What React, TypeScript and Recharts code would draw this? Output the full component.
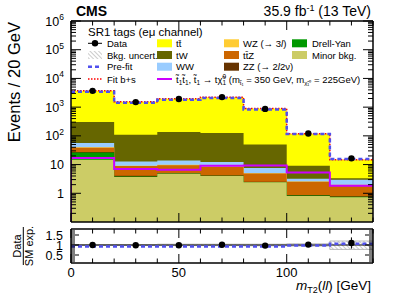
import React from 'react'
import { ComposedChart, Area, Line, Scatter, XAxis, YAxis, ReferenceLine, ErrorBar } from 'recharts'

const FONT = 'Liberation Sans, Arial, sans-serif'

const binEdges = [0, 20, 40, 60, 80, 100, 120, 140]
const binCenters = [10, 30, 50, 70, 90, 110, 130]

// backgrounds, bottom of the stack first
const minorBkg = [14.7, 3.7, 4.8, 4.0, 2.4, 0.81, 0.73]
const drellYan = [11.7, 0.15, 0.05, 0.05, 0.03, 0.02, 0.02]
const zz = [1.0, 0.2, 0.15, 0.15, 0.1, 0.05, 0.04]
const ttz = [11.0, 4.8, 4.5, 4.2, 2.4, 1.62, 1.13]
const wz = [1.5, 0.3, 0.3, 0.2, 0.1, 0.07, 0.05]
const ww = [16.6, 3.65, 4.1, 3.6, 2.5, 0.63, 0.97]
const tw = [250, 97, 123, 114, 42, 5.9, 0.43]
const ttbar = [3400, 1420, 1810, 2090, 845, 110, 11.3]

const dataCounts = [3700, 1500, 1930, 2240, 870, 121, 16.5]
const signal = [16.9, 6.95, 6.6, 9.1, 9.3, 5.3, 1.82]

// ratio panel
const ratioData = [1.0, 0.99, 0.99, 1.01, 0.97, 1.02, 1.1]
const ratioErr = [0.02, 0.03, 0.03, 0.025, 0.04, 0.1, 0.28]
const prefitRatio = [0.93, 0.93, 0.93, 0.93, 0.93, 0.97, 1.06]
const uncLow = [0.98, 0.98, 0.97, 0.97, 0.96, 0.95, 0.78]
const uncHigh = [1.02, 1.02, 1.04, 1.04, 1.04, 1.06, 1.2]

const xTicks = [0, 10, 20, 30, 40, 50, 60, 70, 80, 90, 100, 110, 120, 130, 140]
const xLabels = [0, 50, 100]
const decades = [0.1, 1, 10, 100, 1e3, 1e4, 1e5]
const yTicksMain = decades.flatMap((d) => [1, 2, 3, 4, 5, 6, 7, 8, 9].map((m) => m * d)).filter((v) => v > 0.15).concat([1e6])
const yTicksRatio = [0.2, 0.3, 0.4, 0.5, 0.6, 0.7, 0.8, 0.9, 1, 1.1, 1.2, 1.3, 1.4, 1.5, 1.6, 1.7]

const stack = [
  { vals: minorBkg, color: '#cccc66' },
  { vals: drellYan, color: '#009900' },
  { vals: zz, color: '#663300' },
  { vals: ttz, color: '#cc6600' },
  { vals: wz, color: '#ffcc33' },
  { vals: ww, color: '#99ccff' },
  { vals: tw, color: '#666600' },
  { vals: ttbar, color: '#ffff00' },
]

const rows = binEdges.map((x, i) => {
  const b = Math.min(i, binCenters.length - 1)
  const row: any = { x }
  let sum = 0
  stack.forEach((s, k) => {
    sum += s.vals[b]
    row['c' + k] = sum
  })
  row.fit = sum
  row.prefit = sum * prefitRatio[b]
  row.pre = prefitRatio[b]
  row.band = [uncLow[b], uncHigh[b]]
  return row
})

const signalRows = [{ x: 0, sig: 0.1 }].concat(binEdges.map((x, i) => ({ x, sig: signal[Math.min(i, signal.length - 1)] })))
const dataPts = binCenters.map((x, i) => ({ x, n: dataCounts[i] }))
const ratioPts = binCenters.map((x, i) => ({ x, r: ratioData[i], err: ratioErr[i] }))

const frame = { stroke: '#000', strokeWidth: 1.5 }

const XTick = ({ x, y, payload, dir, label }: any) => {
  const v = payload.value
  const major = v % 50 === 0
  const len = major ? 9 : 4.5
  return (
    <g>
      <line x1={x} x2={x} y1={y} y2={y + dir * len} stroke="#000" strokeWidth={1} />
      {label && xLabels.includes(v) && (
        <text x={x} y={y + 14} textAnchor="middle" fontSize={13} fontFamily={FONT} fill="#000">{v}</text>
      )}
    </g>
  )
}

const LogTick = ({ x, y, payload, dir, label }: any) => {
  const v = payload.value
  const lg = Math.log10(v)
  const e = Math.round(lg)
  const major = Math.abs(lg - e) < 1e-6
  const len = major ? 10 : 5
  return (
    <g>
      <line x1={x} x2={x + dir * len} y1={y} y2={y} stroke="#000" strokeWidth={1} />
      {label && major && (
        <text x={x - 7} y={y + 4.5} textAnchor="end" fontSize={12.5} fontFamily={FONT} fill="#000">
          {e >= 2 ? (
            <>10<tspan dy={-5.5} fontSize={8.5}>{e}</tspan></>
          ) : e === 1 ? '10' : '1'}
        </text>
      )}
    </g>
  )
}

const RatioTick = ({ x, y, payload, dir, label }: any) => {
  const v = payload.value
  const major = Math.abs(v * 2 - Math.round(v * 2)) < 1e-6
  const len = major ? 8 : 4
  return (
    <g>
      <line x1={x} x2={x + dir * len} y1={y} y2={y} stroke="#000" strokeWidth={1} />
      {label && major && (
        <text x={x - 8} y={y + 4.5} textAnchor="end" fontSize={12.5} fontFamily={FONT} fill="#000">
          {String(Math.round(v * 10) / 10)}
        </text>
      )}
    </g>
  )
}

const axisCommon = { tickSize: 0, tickMargin: 0, tickLine: false, interval: 0 as const, allowDataOverflow: true, axisLine: frame }

function MainChart() {
  return (
    <ComposedChart width={399} height={228} data={rows} margin={{ top: 20, right: 25, bottom: 5, left: 0 }}>
      <XAxis {...axisCommon} dataKey="x" type="number" domain={[0, 140]} ticks={xTicks} height={1}
        tick={(p: any) => <XTick {...p} dir={-1} />} />
      <XAxis {...axisCommon} xAxisId="top" orientation="top" dataKey="x" type="number" domain={[0, 140]} ticks={xTicks} height={1}
        tick={(p: any) => <XTick {...p} dir={1} />} />
      <YAxis {...axisCommon} type="number" scale="log" domain={[0.1, 1e6]} ticks={yTicksMain} width={71}
        tick={(p: any) => <LogTick {...p} dir={1} label />} />
      <YAxis {...axisCommon} yAxisId="right" orientation="right" type="number" scale="log" domain={[0.1, 1e6]} ticks={yTicksMain} width={1}
        tick={(p: any) => <LogTick {...p} dir={-1} />} />
      {stack.map((s, k) => stack.length - 1 - k).map((k) => (
        <Area key={k} type="stepAfter" dataKey={'c' + k} fill={stack[k].color} fillOpacity={1} stroke="none"
          baseValue={0.1} isAnimationActive={false} dot={false} activeDot={false} />
      ))}
      <Line data={signalRows} type="stepAfter" dataKey="sig" stroke="#cc00ff" strokeWidth={2} dot={false} activeDot={false} isAnimationActive={false} />
      <Line type="stepAfter" dataKey="fit" stroke="#ff0000" strokeWidth={1.5} strokeDasharray="1.5 1.5" dot={false} activeDot={false} isAnimationActive={false} />
      <Line type="stepAfter" dataKey="prefit" stroke="#5050ee" strokeWidth={2.5} strokeDasharray="4 3" dot={false} activeDot={false} isAnimationActive={false} />
      <Scatter data={dataPts} dataKey="n" isAnimationActive={false}
        shape={(p: any) => <circle cx={p.cx} cy={p.cy} r={3.2} fill="#000" />} />
    </ComposedChart>
  )
}

function RatioChart() {
  return (
    <ComposedChart width={399} height={79} data={rows} margin={{ top: 6, right: 25, bottom: 18, left: 0 }}>
      <defs>
        <pattern id="hatch" width={3} height={3} patternUnits="userSpaceOnUse" patternTransform="rotate(-45)">
          <line x1={0} y1={0} x2={0} y2={3} stroke="#999" strokeWidth={1} />
        </pattern>
      </defs>
      <XAxis {...axisCommon} dataKey="x" type="number" domain={[0, 140]} ticks={xTicks} height={20}
        tick={(p: any) => <XTick {...p} dir={-1} label />} />
      <XAxis {...axisCommon} xAxisId="top" orientation="top" dataKey="x" type="number" domain={[0, 140]} ticks={xTicks} height={1}
        tick={(p: any) => <XTick {...p} dir={1} />} />
      <YAxis {...axisCommon} type="number" domain={[0.1, 1.8]} ticks={yTicksRatio} width={71}
        tick={(p: any) => <RatioTick {...p} dir={1} label />} />
      <YAxis {...axisCommon} yAxisId="right" orientation="right" type="number" domain={[0.1, 1.8]} ticks={yTicksRatio} width={1}
        tick={(p: any) => <RatioTick {...p} dir={-1} />} />
      <Area type="stepAfter" dataKey="band" fill="url(#hatch)" fillOpacity={1} stroke="#aaa" strokeWidth={0.8}
        isAnimationActive={false} dot={false} activeDot={false} />
      <ReferenceLine y={1} stroke="#000" strokeWidth={1} />
      <Line type="stepAfter" dataKey="pre" stroke="#5050ee" strokeWidth={2.5} strokeDasharray="4 3" dot={false} activeDot={false} isAnimationActive={false} />
      <Scatter data={ratioPts} dataKey="r" isAnimationActive={false}
        shape={(p: any) => <circle cx={p.cx} cy={p.cy} r={3.2} fill="#000" />}>
        <ErrorBar dataKey="err" direction="y" width={0} stroke="#000" strokeWidth={1} />
      </Scatter>
    </ComposedChart>
  )
}

const rowY = [43.3, 55, 66.7, 79]
const sub = (s: string, size = 6.5) => (
  <>
    <tspan dy={2} fontSize={size}>{s}</tspan>
    <tspan dy={-2}>{'\u200b'}</tspan>
  </>
)

function Overlay() {
  const box = (x: number, r: number, fill: string) => <rect x={x} y={rowY[r] - 4} width={15} height={8} fill={fill} />
  const txt = (x: number, r: number, content: any) => (
    <text x={x} y={rowY[r] + 3.5} fontSize={9.5} fontFamily={FONT} fill="#000">{content}</text>
  )
  return (
    <svg width={399} height={301} style={{ position: 'absolute', left: 0, top: 0, pointerEvents: 'none' }}>
      <text x={76} y={16} fontSize={14} fontWeight="bold" fontFamily={FONT}>CMS</text>
      <text x={371} y={16} fontSize={14} textAnchor="end" fontFamily={FONT}>
        35.9 fb<tspan dy={-5.5} fontSize={9}>-1</tspan><tspan dy={5.5}> (13 TeV)</tspan>
      </text>
      <text transform="translate(20,22) rotate(-90)" textAnchor="end" fontSize={16.5} fontFamily={FONT}>Events / 20 GeV</text>
      <g transform="translate(23.3,246) rotate(-90)">
        <text x={0} y={-2} textAnchor="middle" fontSize={11} fontFamily={FONT}>Data</text>
        <line x1={-19} x2={19} y1={0} y2={0} stroke="#000" strokeWidth={1} />
        <text x={0} y={9.5} textAnchor="middle" fontSize={11} fontFamily={FONT}>SM exp.</text>
      </g>
      <text x={371} y={290} textAnchor="end" fontSize={13.5} fontFamily={FONT}>
        <tspan fontStyle="italic">m</tspan><tspan dy={3} fontSize={9}>T2</tspan><tspan dy={-3}>(</tspan>
        <tspan fontStyle="italic">ll</tspan>) [GeV]
      </text>

      <text x={88} y={36} fontSize={11.5} fontFamily={FONT}>SR1 tags  (eμ channel)</text>

      <line x1={88} x2={102} y1={rowY[0]} y2={rowY[0]} stroke="#000" strokeWidth={1} />
      <circle cx={95} cy={rowY[0]} r={3.2} fill="#000" />
      {txt(107, 0, 'Data')}
      <rect x={88} y={rowY[1] - 4} width={14} height={8} fill="url(#hatch)" />
      {txt(107, 1, 'Bkg. uncert.')}
      <line x1={88} x2={102} y1={rowY[2]} y2={rowY[2]} stroke="#5050ee" strokeWidth={2.5} strokeDasharray="4 3" />
      {txt(107, 2, 'Pre-fit')}
      <line x1={88} x2={102} y1={rowY[3]} y2={rowY[3]} stroke="#ff0000" strokeWidth={1.5} strokeDasharray="1.5 1.5" />
      {txt(107, 3, 'Fit b+s')}

      {box(157, 0, '#ffff00')}
      {txt(176, 0, 't\u0074\u0304')}
      {box(157, 1, '#666600')}
      {txt(176, 1, 'tW')}
      {box(157, 2, '#99ccff')}
      {txt(176, 2, 'WW')}
      <line x1={157} x2={172} y1={rowY[3]} y2={rowY[3]} stroke="#cc00ff" strokeWidth={2} />
      {txt(176, 3, (
        <>
          {'t\u0303'}{sub('1')}{'t\u0303'}{sub('1')}{',  t\u0303'}{sub('1')}{' \u2192 t\u03c7\u0303'}
          <tspan dy={2} fontSize={6.5}>1</tspan><tspan dx={-3.6} dy={-6} fontSize={6.5}>0</tspan>
          <tspan dy={4}>{'  (m'}</tspan>{sub('t\u0303\u2081', 6)}{' = 350 GeV, m'}{sub('\u03c7\u0303\u2081\u2070', 6)}{' = 225GeV)'}
        </>
      ))}

      {box(224, 0, '#ffcc33')}
      {txt(243, 0, <>WZ (→ 3<tspan fontStyle="italic">l</tspan>)</>)}
      {box(224, 1, '#cc6600')}
      {txt(243, 1, 't\u0074\u0304Z')}
      {box(224, 2, '#663300')}
      {txt(243, 2, <>ZZ (→ 2<tspan fontStyle="italic">l</tspan>2ν)</>)}

      {box(292, 0, '#009900')}
      {txt(312, 0, 'Drell-Yan')}
      {box(292, 1, '#cccc66')}
      {txt(312, 1, 'Minor bkg.')}
    </svg>
  )
}

export default function App() {
  return (
    <div style={{ position: 'absolute', left: 0, top: 0, width: 399, height: 301, background: '#fff', fontFamily: FONT }}>
      <div style={{ position: 'absolute', left: 0, top: 0 }}>
        <MainChart />
      </div>
      <div style={{ position: 'absolute', left: 0, top: 222 }}>
        <RatioChart />
      </div>
      <Overlay />
    </div>
  )
}
